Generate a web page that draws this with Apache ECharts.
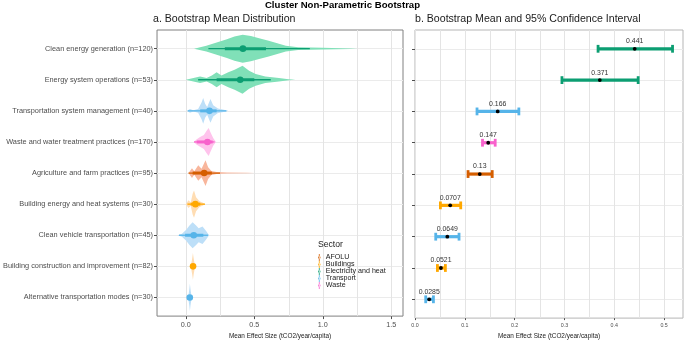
<!DOCTYPE html>
<html>
<head>
<meta charset="utf-8">
<script src="https://cdn.jsdelivr.net/npm/echarts@6/dist/echarts.min.js"></script>
<style>
html, body { margin: 0; padding: 0; background: #fff; }
#chart { width: 685px; height: 344px; }
</style>
</head>
<body>
<div id="chart"></div>
<script>
var rows = [
    'Clean energy generation (n=120)',
    'Energy system operations (n=53)',
    'Transportation system management (n=40)',
    'Waste and water treatment practices (n=170)',
    'Agriculture and farm practices (n=95)',
    'Building energy and heat systems (n=30)',
    'Clean vehicle transportation (n=45)',
    'Building construction and improvement (n=82)',
    'Alternative transportation modes (n=30)'
];
var sectorOf = ['Electricity and heat', 'Electricity and heat', 'Transport', 'Waste', 'AFOLU',
    'Buildings', 'Transport', 'Buildings', 'Transport'];
var sectors = ['AFOLU', 'Buildings', 'Electricity and heat', 'Transport', 'Waste'];

// panel b: bootstrap mean and 95% CI
var meanValue = [0.441, 0.371, 0.166, 0.147, 0.13, 0.0707, 0.0649, 0.0521, 0.0285];
var ciLow = [0.3675, 0.295, 0.1245, 0.1355, 0.1065, 0.051, 0.0416, 0.045, 0.0215];
var ciHigh = [0.517, 0.448, 0.2085, 0.161, 0.155, 0.0918, 0.0884, 0.061, 0.037];

// panel a: distribution summaries
var pointValue = [0.417, 0.397, 0.173, 0.158, 0.134, 0.07, 0.058, 0.053, 0.029];
var innerLow = [0.285, 0.225, 0.105, 0.08, 0.05, 0.036, -0.005, 0.045, 0.024];
var innerHigh = [0.585, 0.5, 0.225, 0.196, 0.19, 0.106, 0.128, 0.06, 0.034];
var outerLow = [0.165, 0.09, 0.014, 0.06, 0.02, 0.012, -0.05, 0.04, 0.02];
var outerHigh = [0.905, 0.62, 0.296, 0.21, 0.25, 0.14, 0.163, 0.066, 0.038];

// density outlines [value, relative height]
var densities = [
    [[0.06, 0], [0.15, 0.2], [0.225, 0.44], [0.3, 0.67], [0.355, 0.86], [0.415, 1.0], [0.475, 0.9],
     [0.535, 0.74], [0.605, 0.56], [0.68, 0.35], [0.73, 0.2], [0.82, 0.1], [1.0, 0.06], [1.2, 0.02], [1.25, 0]],
    [[0.0, 0], [0.056, 0.12], [0.104, 0.23], [0.152, 0.12], [0.19, 0.3], [0.225, 0.53], [0.26, 0.3],
     [0.31, 0.53], [0.356, 0.72], [0.414, 1.0], [0.462, 0.65], [0.51, 0.42], [0.58, 0.23], [0.68, 0.12],
     [0.75, 0.03], [0.8, 0]],
    [[0.01, 0], [0.03, 0.14], [0.055, 0.05], [0.09, 0.14], [0.115, 0.6], [0.127, 0.92], [0.141, 0.5],
     [0.156, 0.28], [0.18, 0.85], [0.2, 0.4], [0.235, 0.16], [0.295, 0.05], [0.31, 0]],
    [[0.06, 0], [0.075, 0.16], [0.104, 0.35], [0.132, 0.5], [0.152, 0.8], [0.167, 1.0], [0.18, 0.7],
     [0.2, 0.28], [0.22, 0]],
    [[0.02, 0], [0.045, 0.35], [0.062, 0.12], [0.091, 0.55], [0.115, 0.3], [0.144, 0.92], [0.163, 0.42],
     [0.187, 0.14], [0.225, 0.07], [0.3, 0.04], [0.45, 0.02], [0.5, 0]],
    [[0.0, 0], [0.02, 0.28], [0.036, 0.12], [0.05, 0.74], [0.06, 0.97], [0.075, 0.5], [0.1, 0.2],
     [0.122, 0.12], [0.14, 0]],
    [[-0.06, 0], [-0.028, 0.1], [0.003, 0.4], [0.027, 0.7], [0.05, 0.93], [0.075, 0.7], [0.094, 0.5],
     [0.122, 0.62], [0.147, 0.32], [0.17, 0]],
    [[0.03, 0], [0.04, 0.2], [0.047, 0.6], [0.052, 0.95], [0.057, 0.6], [0.064, 0.2], [0.072, 0]],
    [[0.012, 0], [0.02, 0.2], [0.026, 0.6], [0.03, 0.97], [0.034, 0.6], [0.04, 0.2], [0.046, 0]]
];

var leftTicks = [0, 0.5, 1, 1.5];
var leftGridLines = [0, 0.25, 0.5, 0.75, 1, 1.25, 1.5];
var rightTicks = [0, 0.1, 0.2, 0.3, 0.4, 0.5];
var rightGridLines = [0, 0.05, 0.1, 0.15, 0.2, 0.25, 0.3, 0.35, 0.4, 0.45, 0.5];
var rowIndex = [0, 1, 2, 3, 4, 5, 6, 7, 8];

var sectorColor = {
    'AFOLU': '#D55E00',
    'Buildings': '#FFA800',
    'Electricity and heat': '#0C9E72',
    'Transport': '#56B4E9',
    'Waste': '#F862CC'
};
var slabColor = {
    'AFOLU': '#F8B69C',
    'Buildings': '#FFDDB3',
    'Electricity and heat': '#80E0B8',
    'Transport': '#BDDFF8',
    'Waste': '#FFC3EC'
};

var font = 'Liberation Sans, Arial, sans-serif';
var myChart = echarts.init(document.getElementById('chart'));

function distItem(params, api) {
    var r = api.value(1);
    var col = sectorColor[sectorOf[r]];
    var unit = api.size([0, 1])[1];
    var upper = [], lower = [];
    densities[r].forEach(function (p) {
        var c = api.coord([p[0], r]);
        var h = p[1] * 0.45 * unit;
        upper.push([c[0], c[1] - h]);
        lower.unshift([c[0], c[1] + h]);
    });
    var a = api.coord([outerLow[r], r]), b = api.coord([outerHigh[r], r]);
    var c1 = api.coord([innerLow[r], r]), c2 = api.coord([innerHigh[r], r]);
    var p = api.coord([pointValue[r], r]);
    return {
        type: 'group',
        children: [
            { type: 'polygon', shape: { points: upper.concat(lower) }, style: { fill: slabColor[sectorOf[r]] } },
            { type: 'line', shape: { x1: a[0], y1: a[1], x2: b[0], y2: b[1] }, style: { stroke: col, lineWidth: 1.3 } },
            { type: 'line', shape: { x1: c1[0], y1: c1[1], x2: c2[0], y2: c2[1] }, style: { stroke: col, lineWidth: 3 } },
            { type: 'circle', shape: { cx: p[0], cy: p[1], r: 3.3 }, style: { fill: col } }
        ]
    };
}

function ciItem(params, api) {
    var r = api.value(1);
    var col = sectorColor[sectorOf[r]];
    var lo = api.coord([ciLow[r], r]), hi = api.coord([ciHigh[r], r]), m = api.coord([meanValue[r], r]);
    var cap = 3.9;
    return {
        type: 'group',
        children: [
            { type: 'line', shape: { x1: lo[0], y1: lo[1], x2: hi[0], y2: hi[1] }, style: { stroke: col, lineWidth: 3.2 } },
            { type: 'line', shape: { x1: lo[0], y1: lo[1] - cap, x2: lo[0], y2: lo[1] + cap }, style: { stroke: col, lineWidth: 2.8 } },
            { type: 'line', shape: { x1: hi[0], y1: hi[1] - cap, x2: hi[0], y2: hi[1] + cap }, style: { stroke: col, lineWidth: 2.8 } },
            { type: 'circle', shape: { cx: m[0], cy: m[1], r: 1.9 }, style: { fill: '#000' } },
            {
                type: 'text', x: m[0], y: m[1] - 7.5,
                style: { text: String(meanValue[r]), align: 'center', verticalAlign: 'middle',
                    fontSize: 6.9, fontFamily: font, fill: '#333' }
            }
        ]
    };
}

// vertical grid lines drawn at axis values
function gridLineItem(params, api) {
    var v = api.value(0);
    var a = api.coord([v, -0.6]), b = api.coord([v, 8.6]);
    var x = Math.round(a[0]) + 0.5;
    return {
        type: 'line',
        shape: { x1: x, y1: a[1], x2: x, y2: b[1] },
        style: { stroke: '#e4e4e4', lineWidth: 1 }
    };
}

var series = [
    { type: 'custom', name: 'gridA', xAxisIndex: 0, yAxisIndex: 0, z: 1, silent: true,
      renderItem: gridLineItem, data: leftGridLines.map(function (v) { return [v, 4]; }) },
    { type: 'custom', name: 'gridB', xAxisIndex: 1, yAxisIndex: 1, z: 1, silent: true,
      renderItem: gridLineItem, data: rightGridLines.map(function (v) { return [v, 4]; }) }
];
sectors.forEach(function (s) {
    series.push({
        name: s,
        type: 'custom',
        xAxisIndex: 0,
        yAxisIndex: 0,
        z: 3,
        itemStyle: { color: sectorColor[s] },
        renderItem: distItem,
        data: rowIndex.filter(function (r) { return sectorOf[r] === s; })
            .map(function (r) { return [pointValue[r], r]; })
    });
});
series.push({
    name: 'CI',
    type: 'custom',
    xAxisIndex: 1,
    yAxisIndex: 1,
    z: 3,
    renderItem: ciItem,
    data: rowIndex.map(function (r) { return [meanValue[r], r]; })
});

var axisText = { color: '#4d4d4d', fontFamily: font };

var option = {
    animation: false,
    textStyle: { fontFamily: font },
    title: [
        { text: 'Cluster Non-Parametric Bootstrap', left: 'center', top: 0, padding: 0,
          textStyle: { fontSize: 9.6, fontWeight: 'bold', color: '#000', fontFamily: font } },
        { text: 'a. Bootstrap Mean Distribution', left: 153, top: 14, padding: 0,
          textStyle: { fontSize: 10.6, fontWeight: 'normal', color: '#1a1a1a', fontFamily: font } },
        { text: 'b. Bootstrap Mean and 95% Confidence Interval', left: 415, top: 14, padding: 0,
          textStyle: { fontSize: 10.6, fontWeight: 'normal', color: '#1a1a1a', fontFamily: font } },
        { text: 'Sector', left: 318, top: 240, padding: 0,
          textStyle: { fontSize: 8.6, fontWeight: 'normal', color: '#1a1a1a', fontFamily: font } }
    ],
    legend: {
        data: sectors,
        orient: 'vertical',
        left: 318,
        top: 254,
        padding: 0,
        itemGap: 0,
        itemWidth: 5,
        itemHeight: 7,
        icon: 'path://M1.7,0 L3.3,0 L3.3,14 L1.7,14 Z M2.5,4.5 A2.5,2.5 0 1 0 2.5,9.5 A2.5,2.5 0 1 0 2.5,4.5 Z',
        textStyle: { fontSize: 7.1, color: '#1a1a1a', lineHeight: 7, padding: [0, 0, 0, -1], fontFamily: font }
    },
    grid: [
        { left: 153, top: 30, width: 250, height: 293, show: true, borderColor: '#808080', borderWidth: 1 },
        { left: 415, top: 30, width: 268, height: 293, show: true, borderColor: '#b5b5b5', borderWidth: 1 }
    ],
    xAxis: [
        {
            type: 'value', gridIndex: 0, min: -0.21, max: 1.585, position: 'bottom',
            name: 'Mean Effect Size (tCO2/year/capita)', nameLocation: 'middle', nameGap: 13,
            nameTextStyle: { fontSize: 6.4, color: '#1a1a1a', fontFamily: font },
            axisLine: { show: false, onZero: false },
            axisTick: { show: true, length: 3, customValues: leftTicks, lineStyle: { color: '#4d4d4d' } },
            axisLabel: Object.assign({ customValues: leftTicks, fontSize: 7.2, margin: 5,
                formatter: function (v) { return v.toFixed(1); } }, axisText),
            splitLine: { show: false }
        },
        {
            type: 'value', gridIndex: 1, min: 0, max: 0.538, position: 'bottom',
            name: 'Mean Effect Size (tCO2/year/capita)', nameLocation: 'middle', nameGap: 13,
            nameTextStyle: { fontSize: 6.4, color: '#1a1a1a', fontFamily: font },
            axisLine: { show: false, onZero: false },
            axisTick: { show: true, length: 2, customValues: rightTicks, lineStyle: { color: '#4d4d4d' } },
            axisLabel: Object.assign({ customValues: rightTicks, fontSize: 5.3, margin: 5,
                formatter: function (v) { return v.toFixed(1); } }, axisText),
            splitLine: { show: false }
        }
    ],
    yAxis: [
        {
            type: 'value', gridIndex: 0, min: -0.6, max: 8.6, inverse: true, position: 'left',
            axisLine: { show: false, onZero: false },
            axisTick: { show: true, length: 3, customValues: rowIndex, lineStyle: { color: '#4d4d4d' } },
            axisLabel: Object.assign({ customValues: rowIndex, fontSize: 7.35, margin: 4,
                formatter: function (v) { return rows[v]; } }, axisText),
            splitLine: { show: true, lineStyle: { color: '#ebebeb', width: 1 } }
        },
        {
            type: 'value', gridIndex: 1, min: -0.6, max: 8.6, inverse: true, position: 'left',
            axisLine: { show: false, onZero: false },
            axisTick: { show: true, length: 3, customValues: rowIndex, lineStyle: { color: '#4d4d4d' } },
            axisLabel: { show: false, customValues: rowIndex },
            splitLine: { show: true, lineStyle: { color: '#ebebeb', width: 1 } }
        }
    ],
    series: series
};

myChart.setOption(option);
</script>
</body>
</html>
